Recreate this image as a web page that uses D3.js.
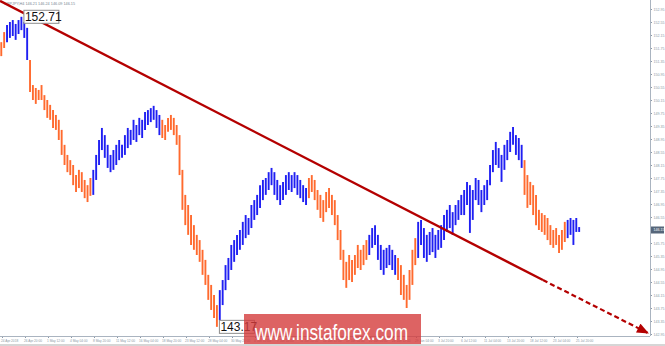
<!DOCTYPE html>
<html>
<head>
<meta charset="utf-8">
<script src="https://cdn.jsdelivr.net/npm/d3@7/dist/d3.min.js"></script>
<style>
  body { margin: 0; background: #fff; }
  svg { display: block; }
</style>
</head>
<body>
<svg id="chart"></svg>
<script>
// GBPJPY H4 - one entry per two H4 bars (8 hours)
const highs = [
  151.93, 152.24, 152.46, 152.55, 152.61, 152.49, 152.61, 152.71, 152.55, 152.37,
  151.38, 150.61, 150.52, 150.46, 150.61, 150.30, 150.15, 150.00, 149.84, 149.69,
  149.54, 149.23, 148.77, 148.46, 148.30, 148.15, 147.84, 148.00, 147.93, 147.69,
  147.53, 147.75, 148.00, 148.46, 148.92, 149.29, 149.07, 148.77, 148.46, 148.61,
  148.77, 148.92, 148.77, 149.07, 149.29, 149.23, 149.54, 149.38, 149.60, 149.54,
  149.78, 149.84, 149.90, 149.97, 149.84, 149.69, 149.54, 149.38, 149.60, 149.69,
  149.60, 149.38, 149.07, 148.00, 147.23, 146.92, 146.61, 146.30, 146.00, 145.84,
  145.54, 145.23, 144.77, 144.46, 144.15, 143.84, 144.30, 144.61, 145.07, 145.29,
  145.69, 145.84, 146.00, 146.15, 146.40, 146.61, 146.52, 146.92, 147.07, 147.23,
  147.53, 147.69, 147.75, 147.93, 148.06, 147.93, 147.69, 147.53, 147.63, 147.84,
  147.93, 147.84, 147.93, 147.84, 147.69, 147.53, 147.44, 147.75, 147.84, 147.69,
  147.38, 147.23, 147.07, 147.32, 147.44, 147.23, 147.07, 146.61, 146.15, 145.54,
  145.17, 145.38, 145.23, 145.38, 145.69, 145.54, 145.69, 145.84, 146.00, 146.21,
  146.30, 146.00, 145.69, 145.54, 145.60, 145.69, 145.54, 145.38, 145.29, 145.07,
  144.77, 144.46, 144.92, 145.54, 145.90, 146.40, 146.46, 146.21, 146.00, 146.09,
  146.21, 146.00, 146.15, 146.30, 146.61, 146.77, 146.92, 146.70, 146.92, 147.07,
  147.23, 147.38, 147.63, 147.53, 147.38, 147.75, 147.69, 147.38, 147.53, 147.69,
  148.15, 148.61, 148.86, 148.67, 148.46, 148.77, 148.92, 149.17, 149.32, 149.07,
  148.98, 148.77, 148.30, 147.84, 147.63, 147.53, 147.23, 146.77, 146.67, 146.61,
  146.52, 146.30, 146.15, 146.21, 146.00, 146.15, 146.40, 146.46, 146.52, 146.46,
  146.52, 146.24
];
const lows = [
  151.50, 151.75, 151.93, 152.06, 152.12, 152.00, 152.18, 152.30, 152.06, 151.38,
  150.40, 150.15, 150.03, 150.15, 150.15, 149.84, 149.60, 149.54, 149.29, 149.23,
  148.92, 148.46, 148.15, 147.93, 147.84, 147.53, 147.32, 147.44, 147.32, 147.13,
  147.01, 147.20, 147.23, 147.69, 148.15, 148.61, 148.37, 148.06, 147.93, 148.00,
  148.15, 148.30, 148.37, 148.46, 148.67, 148.77, 148.92, 148.86, 149.07, 148.98,
  149.23, 149.38, 149.47, 149.54, 149.29, 149.07, 148.98, 148.92, 149.17, 149.23,
  149.07, 148.77, 147.84, 146.77, 146.30, 146.00, 145.69, 145.54, 145.38, 145.17,
  144.77, 144.46, 144.00, 143.69, 143.44, 143.17, 143.38, 143.84, 144.30, 144.61,
  144.92, 145.17, 145.38, 145.54, 145.69, 145.90, 146.00, 146.21, 146.46, 146.61,
  146.83, 147.07, 147.23, 147.38, 147.53, 147.23, 147.07, 146.92, 147.07, 147.23,
  147.38, 147.32, 147.44, 147.23, 147.13, 147.01, 146.92, 147.13, 147.32, 147.07,
  146.77, 146.52, 146.40, 146.70, 146.83, 146.61, 146.30, 145.84, 145.23, 144.61,
  144.37, 144.61, 144.55, 144.77, 144.98, 144.92, 145.07, 145.23, 145.38, 145.60,
  145.69, 145.23, 144.92, 144.77, 144.98, 145.07, 144.92, 144.77, 144.61, 144.15,
  144.00, 143.75, 144.00, 144.46, 145.07, 145.29, 145.69, 145.29, 145.17, 145.38,
  145.47, 145.29, 145.54, 145.60, 145.84, 146.09, 146.21, 146.00, 146.30, 146.46,
  146.61, 146.61, 146.92, 146.06, 146.46, 147.07, 146.92, 146.70, 146.92, 147.07,
  147.53, 147.93, 148.15, 148.06, 147.63, 148.00, 148.30, 148.55, 148.77, 148.46,
  148.30, 148.06, 147.23, 146.83, 146.92, 146.61, 146.30, 146.15, 146.09, 146.00,
  145.84, 145.69, 145.60, 145.69, 145.44, 145.54, 145.78, 145.90, 146.00, 145.69,
  146.09, 146.09
];

// wave segments: [first entry, last entry, direction]
const waves = [
  [0, 1, 'down'], [2, 9, 'up'], [10, 31, 'down'], [32, 55, 'up'],
  [56, 75, 'down'], [76, 106, 'up'], [107, 127, 'down'], [128, 137, 'up'],
  [138, 144, 'down'], [145, 181, 'up'], [182, 196, 'down'], [197, 201, 'up']
];

const xLabels = [
  '24 Apr 2018', '26 Apr 20:00', '1 May 12:00', '4 May 04:00', '8 May 20:00',
  '11 May 12:00', '16 May 04:00', '18 May 20:00', '23 May 12:00', '28 May 04:00',
  '30 May 20:00', '4 Jun 12:00', '7 Jun 04:00', '11 Jun 20:00', '14 Jun 12:00',
  '19 Jun 04:00', '21 Jun 20:00', '26 Jun 12:00', '29 Jun 04:00', '3 Jul 20:00',
  '6 Jul 12:00', '11 Jul 04:00', '13 Jul 20:00', '18 Jul 12:00', '23 Jul 04:00',
  '25 Jul 20:00'
];
const xTickBars = [
  0, 16, 32, 48, 64, 80, 96, 112, 128, 144, 160, 176, 192,
  208, 224, 240, 256, 272, 288, 304, 320, 336, 352, 368, 384, 400
];
const yTicks = [
  142.95, 143.35, 143.75, 144.15, 144.55, 144.95, 145.35, 145.75, 146.55,
  146.95, 147.35, 147.75, 148.15, 148.55, 148.95, 149.35, 149.75, 150.15,
  150.55, 150.95, 151.35, 151.75, 152.15, 152.55, 152.95
];

// trend line in [bar, price]: start, end of solid part, arrow tip
const trend = [[-1.4, 153.2], [376.3, 144.61], [449.4, 142.98]];
const marks = [
  { entry: 7, price: 152.71 },
  { entry: 75, price: 143.17 }
];
const header = 'GBPJPY,H4  146.21 146.24 146.09 146.15';
const lastPrice = 146.15;

const COLORS = { up: '#1f1ff2', down: '#ff6a2e' };
const AXIS = '#8b98a6';
const W = 665, H = 346;
const PLOT_R = 650, PLOT_B = 336;

const svg = d3.select('#chart').attr('width', W).attr('height', H);

const x = d3.scaleLinear().domain([0, 400]).range([2, 577]);
const y = d3.scaleLinear().domain([142.95, 152.95]).range([334, 9]);
const entryX = i => x(i * 2 - 0.5);

function waveOf(i) {
  return waves.find(w => i >= w[0] && i <= w[1])[2];
}

// axes
const yAxis = svg.append('g')
  .attr('transform', `translate(${PLOT_R},0)`)
  .call(d3.axisRight(y).tickValues(yTicks).tickSize(2).tickFormat(d3.format('.2f')));
yAxis.select('.domain').remove();
yAxis.selectAll('line').attr('stroke', AXIS);
yAxis.selectAll('text')
  .attr('x', 3.5).attr('dy', '0.35em')
  .attr('fill', AXIS).style('font', '3.6px Arial, sans-serif');

const xAxis = svg.append('g')
  .attr('transform', `translate(0,${PLOT_B})`)
  .call(d3.axisBottom(x).tickValues(xTickBars).tickSize(2).tickFormat((d, i) => xLabels[i]));
xAxis.select('.domain').remove();
xAxis.selectAll('line').attr('stroke', AXIS);
xAxis.selectAll('text')
  .attr('text-anchor', 'start').attr('x', -1.5).attr('y', 4).attr('dy', '0.71em')
  .attr('fill', AXIS).style('font', '3.2px Arial, sans-serif');

svg.append('line')
  .attr('x1', PLOT_R + 0.5).attr('x2', PLOT_R + 0.5).attr('y1', 0).attr('y2', PLOT_B)
  .attr('stroke', '#aab4c0');
svg.append('line')
  .attr('x1', 0).attr('x2', PLOT_R).attr('y1', PLOT_B + 0.5).attr('y2', PLOT_B + 0.5)
  .attr('stroke', '#aab4c0');
svg.append('rect')
  .attr('x', 0).attr('y', 344).attr('width', W).attr('height', 2).attr('fill', '#d6d6d6');

// current price tag
svg.append('rect')
  .attr('x', PLOT_R + 1).attr('y', y(lastPrice) - 3.5).attr('width', 13).attr('height', 7)
  .attr('fill', '#56667a');
svg.append('text')
  .attr('x', PLOT_R + 3.5).attr('y', y(lastPrice)).attr('dy', '0.35em')
  .attr('fill', '#fff').style('font', '3.6px Arial, sans-serif')
  .text(lastPrice.toFixed(2));

// header
svg.append('text')
  .attr('x', 4).attr('y', 4.5)
  .attr('fill', '#7a8794').style('font', '3.8px Arial, sans-serif')
  .text(header);

// price bars
svg.append('g')
  .selectAll('line')
  .data(highs)
  .join('line')
  .attr('x1', (d, i) => entryX(i))
  .attr('x2', (d, i) => entryX(i))
  .attr('y1', d => y(d))
  .attr('y2', (d, i) => y(lows[i]))
  .attr('stroke', (d, i) => COLORS[waveOf(i)])
  .attr('stroke-width', 1.9);

// trend line
const defs = svg.append('defs');
defs.append('marker')
  .attr('id', 'arrow')
  .attr('markerUnits', 'userSpaceOnUse')
  .attr('viewBox', '0 0 12 10')
  .attr('refX', 11).attr('refY', 5)
  .attr('markerWidth', 13).attr('markerHeight', 10)
  .attr('orient', 'auto')
  .append('path')
  .attr('d', 'M0,0 L12,5 L0,10 Z')
  .attr('fill', '#b40000');

const tx = d => x(d[0]), ty = d => y(d[1]);
svg.append('line')
  .attr('x1', tx(trend[0])).attr('y1', ty(trend[0]))
  .attr('x2', tx(trend[1])).attr('y2', ty(trend[1]))
  .attr('stroke', '#b40000').attr('stroke-width', 2.4);
svg.append('line')
  .attr('x1', tx(trend[1])).attr('y1', ty(trend[1]))
  .attr('x2', tx(trend[2])).attr('y2', ty(trend[2]))
  .attr('stroke', '#b40000').attr('stroke-width', 2.2)
  .attr('stroke-dasharray', '5,3')
  .attr('marker-end', 'url(#arrow)');

// high / low price labels
const markG = svg.append('g')
  .selectAll('g')
  .data(marks)
  .join('g')
  .attr('transform', d => `translate(${entryX(d.entry) + 2},${y(d.price)})`);
markG.append('rect')
  .attr('x', 0.5).attr('y', -6.5).attr('width', 35).attr('height', 13)
  .attr('fill', '#fff').attr('stroke', '#8c8c8c');
markG.append('text')
  .attr('x', 1.5).attr('y', 4.3)
  .attr('fill', '#111').style('font', '12px Arial, "Liberation Sans", sans-serif')
  .text(d => d.price.toFixed(2));

// watermark
svg.append('rect')
  .attr('x', 244).attr('y', 314).attr('width', 177).attr('height', 30)
  .attr('fill', '#d43c3c').attr('opacity', 0.8);
svg.append('text')
  .attr('x', 255).attr('y', 340)
  .attr('textLength', 153).attr('lengthAdjust', 'spacingAndGlyphs')
  .attr('fill', '#fff').style('font', '22px Arial, "Liberation Sans", sans-serif')
  .text('www.instaforex.com');
</script>
</body>
</html>
